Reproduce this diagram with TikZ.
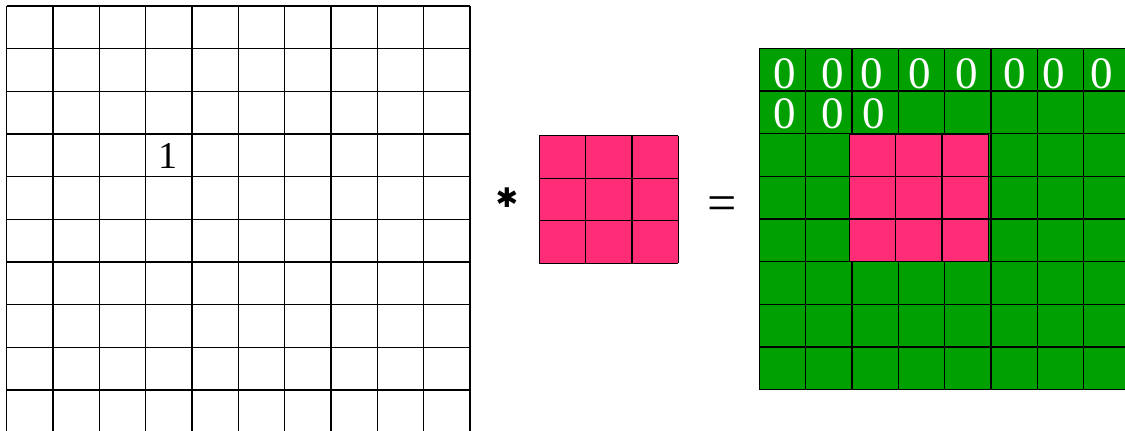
\documentclass[tikz,border=0pt]{standalone}
\usepackage{fontspec}
\setmainfont{Liberation Serif}
\newfontfamily\symfont{DejaVu Sans}
\definecolor{kpink}{RGB}{255,44,120}
\definecolor{kgreen}{RGB}{0,160,0}
\tikzset{
  gline/.style={line width=1.4pt, black},
  one/.style={inner sep=0pt, font=\fontsize{38}{40}\selectfont},
  zero/.style={inner sep=0pt, text=white, font=\fontsize{45}{46}\selectfont},
  op/.style={inner sep=0pt, anchor=base, font=\fontsize{52}{54}\selectfont},
  astk/.style={inner sep=0pt, font=\symfont\fontsize{27}{28}\selectfont},
}
\begin{document}
\begin{tikzpicture}[x=1pt,y=-1pt]
\useasboundingbox (0,0) rectangle (1125,431);
% left 10x10 grid
\foreach \i in {0,...,10}{
  \draw[gline] ({6.7+46.33*\i},6) -- ({6.7+46.33*\i},432.7);
  \draw[gline] (6.7,{6+42.67*\i}) -- (470,{6+42.67*\i});
}
\node[one] (n1) at (168,156) {1};
% kernel
\fill[kpink] (539.3,135.7) rectangle (678.3,263.3);
\foreach \i in {0,...,3}{
  \draw[gline] ({539.3+46.33*\i},135.7) -- ({539.3+46.33*\i},263.3);
  \draw[gline] (539.3,{135.7+42.53*\i}) -- (678.3,{135.7+42.53*\i});
}
\node[astk] (ast) at (507,197.5) {✱};
\node[op] (eq) at (722,220) {=};
% output grid
\fill[kgreen] (759.3,48.3) rectangle (1130,389.7);
\foreach \i in {0,...,8}{
  \draw[gline] ({759.3+46.33*\i},48.3) -- ({759.3+46.33*\i},389.7);
  \draw[gline] (759.3,{48.3+42.67*\i}) -- (1130,{48.3+42.67*\i});
}
\fill[kpink] (849.3,134) rectangle (988.3,261.7);
\foreach \i in {0,...,3}{
  \draw[gline] ({849.3+46.33*\i},134) -- ({849.3+46.33*\i},261.7);
  \draw[gline] (849.3,{134+42.57*\i}) -- (988.3,{134+42.57*\i});
}
\foreach \x [count=\k] in {784.3,832.7,871.7,920,966.7,1015,1053.3,1101.7}{
  \node[zero] (za\k) at (\x,74.2) {0};
}
\foreach \x [count=\k] in {784.3,832.7,873.3}{
  \node[zero] (zb\k) at (\x,114.2) {0};
}
\end{tikzpicture}
\end{document}
